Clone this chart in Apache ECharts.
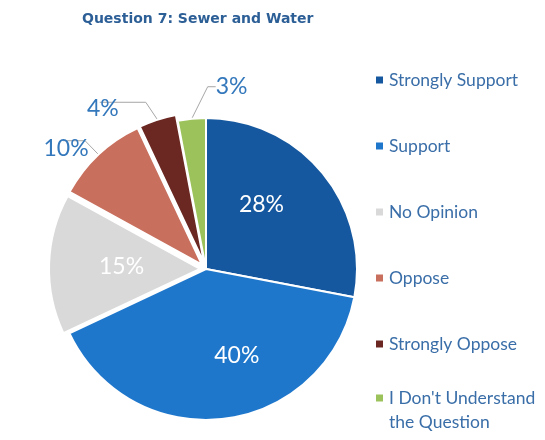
<!DOCTYPE html>
<html>
<head>
<meta charset="utf-8">
<script src="https://cdn.jsdelivr.net/npm/echarts@6/dist/echarts.min.js"></script>
<style>html,body{margin:0;padding:0;background:#fff;}#c{width:545px;height:440px;}</style>
</head>
<body>
<div id="c"></div>
<script>
const categories = ['Strongly Support', 'Support', 'No Opinion', 'Oppose', 'Strongly Oppose', "I Don't Understand the Question"];
const values = [28, 40, 15, 10, 4, 3];

// styling
const colors = ['#15589F', '#1F77CC', '#D9D9D9', '#C86F5D', '#6B2822', '#9CC35B'];
const insideLabel = [true, true, true, false, false, false];
const exploded = [false, false, true, true, true, false];
const insideOffset = [[-5, -14], [21, 9], [-26, -4], [0, 0], [0, 0], [0, 0]];
const lineLen = [0, 0, 0, 8, 12, 14];
const lineLen2 = [0, 0, 0, 22, 46, 8];
const outsideShift = [null, null, null, [-3, -8], [-3, -6], [70, -18]];

const chart = echarts.init(document.getElementById('c'), null, {renderer: 'canvas'});
const data = categories.map((name, i) => {
  const item = {
    name: name,
    value: values[i],
    selected: exploded[i],
    itemStyle: {color: colors[i]}
  };
  if (insideLabel[i]) {
    item.label = {position: 'inside', color: '#ffffff', offset: insideOffset[i]};
  } else {
    item.label = {position: 'outside', color: '#3478BC'};
    item.labelLine = {show: true, length: lineLen[i], length2: lineLen2[i]};
  }
  return item;
});

const legendText = {fontFamily: 'Lato', fontSize: 17.5, color: '#3A6EA8'};

chart.setOption({
  animation: false,
  title: {
    text: 'Question 7: Sewer and Water',
    left: 82,
    top: 12,
    padding: 0,
    textStyle: {fontFamily: 'DejaVu Sans', fontWeight: 'bold', fontSize: 14, color: '#2D5F97'}
  },
  legend: [{
    orient: 'vertical',
    left: 374,
    top: 70,
    padding: 0,
    itemWidth: 9,
    itemHeight: 9,
    itemGap: 46,
    icon: 'rect',
    textStyle: Object.assign({lineHeight: 20}, legendText),
    data: categories.slice(0, 5)
  }, {
    orient: 'vertical',
    left: 374,
    top: 362,
    padding: 0,
    itemWidth: 9,
    itemHeight: 9,
    icon: 'rect',
    formatter: function () { return "\nI Don't Understand\nthe Question"; },
    textStyle: Object.assign({lineHeight: 24}, legendText),
    data: categories.slice(5)
  }],
  series: [{
    type: 'pie',
    center: [206, 269],
    radius: 151,
    startAngle: 90,
    clockwise: true,
    selectedMode: 'multiple',
    selectedOffset: 6,
    avoidLabelOverlap: false,
    itemStyle: {borderColor: '#ffffff', borderWidth: 2},
    label: {
      show: true,
      formatter: '{c}%',
      fontFamily: 'Lato',
      fontSize: 23
    },
    labelLine: {lineStyle: {color: '#A6A6A6', width: 1}},
    labelLayout: function (params) {
      const s = outsideShift[params.dataIndex];
      if (!s) return {};
      const r = params.labelRect;
      return {
        x: r.x + r.width / 2 + s[0],
        y: r.y + r.height / 2 + s[1],
        align: 'center',
        verticalAlign: 'middle'
      };
    },
    emphasis: {disabled: true},
    data: data
  }]
});
</script>
</body>
</html>
